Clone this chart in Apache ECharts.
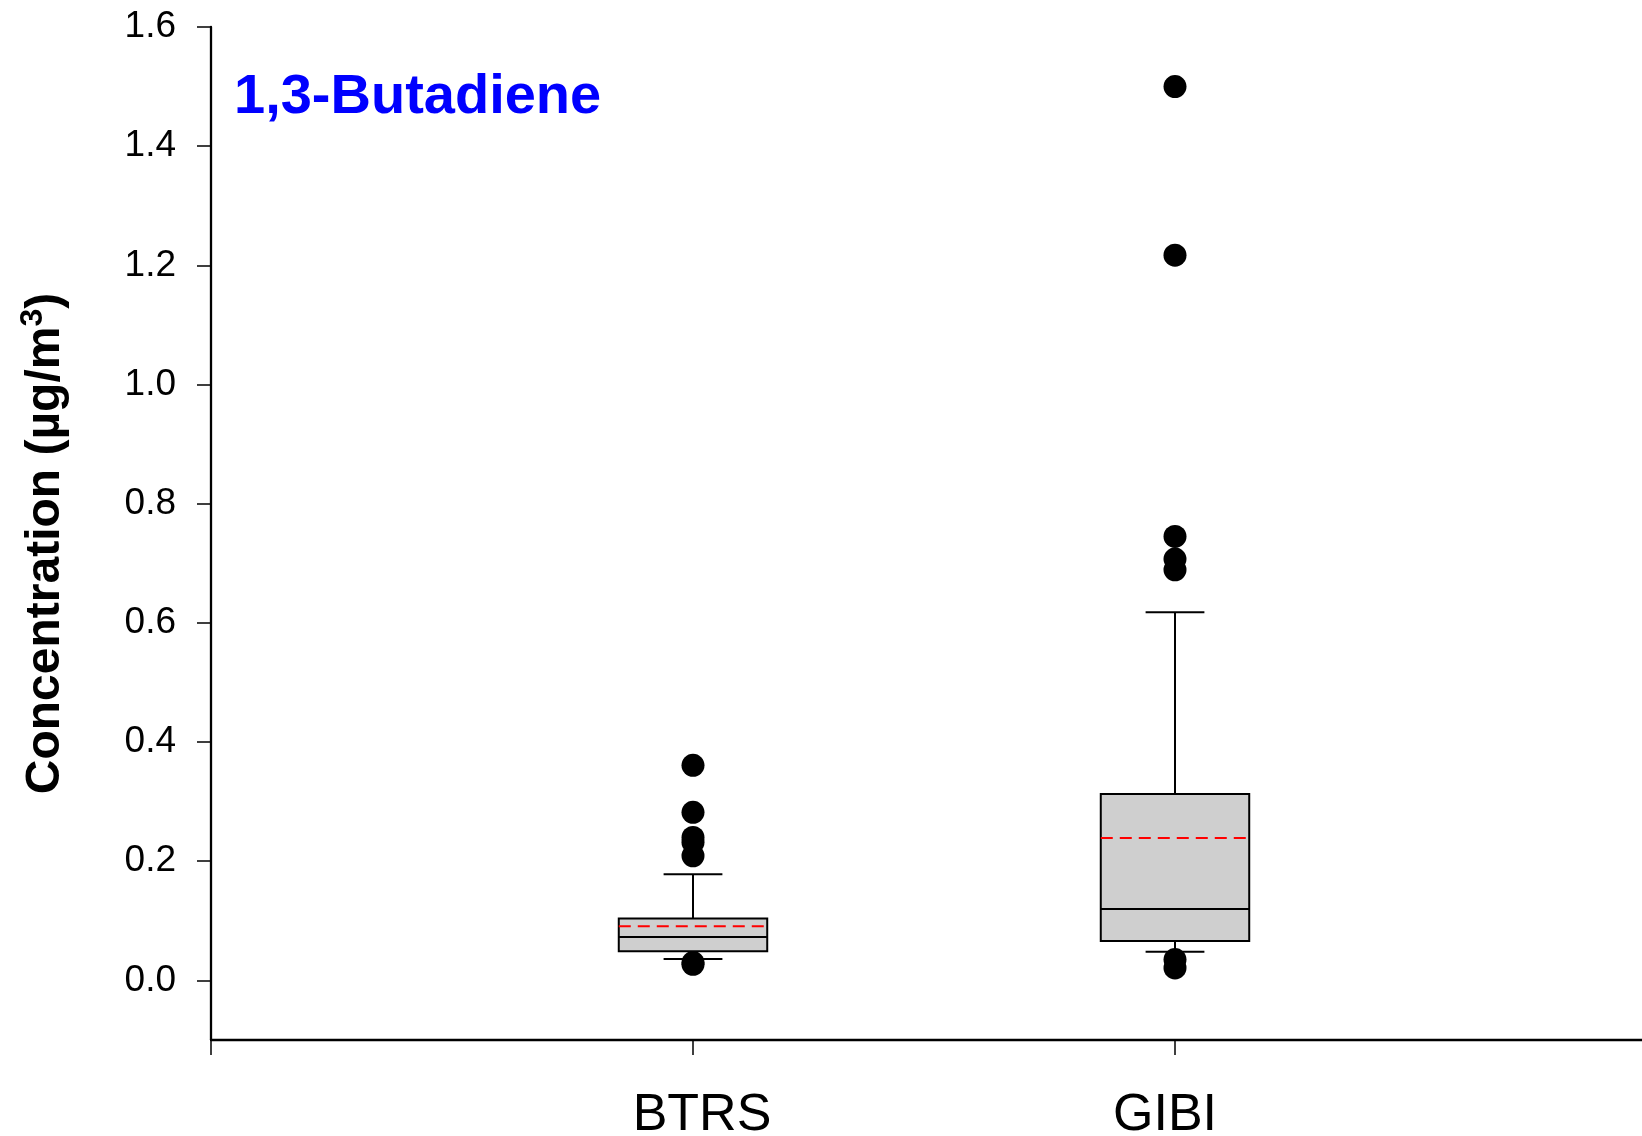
<!DOCTYPE html>
<html>
<head>
<meta charset="utf-8">
<title>1,3-Butadiene</title>
<script src="https://cdn.jsdelivr.net/npm/echarts@6/dist/echarts.min.js"></script>
<style>
  html, body { margin: 0; padding: 0; background: #fff; }
  #chart { width: 1642px; height: 1136px; }
</style>
</head>
<body>
<div id="chart"></div>
<script>
// sites along the x axis (positions 1, 2)
var sites = ['BTRS', 'GIBI']
var sitePos = [1, 2]

// box statistics per site
var lowerWhisker = [0.036, 0.048]
var q1 = [0.049, 0.066]
var median = [0.073, 0.120]
var q3 = [0.104, 0.313]
var upperWhisker = [0.178, 0.618]
var mean = [0.091, 0.239]

// points outside the whiskers
var btrsOutliers = [0.361, 0.282, 0.240, 0.232, 0.209, 0.030, 0.027]
var gibiOutliers = [1.500, 1.217, 0.745, 0.707, 0.689, 0.035, 0.021]

var yTicks = [0, 0.2, 0.4, 0.6, 0.8, 1.0, 1.2, 1.4, 1.6]

var boxData = sitePos.map(function (x, i) {
  return [x, lowerWhisker[i], q1[i], median[i], q3[i], upperWhisker[i], mean[i]]
})
var outlierData = []
btrsOutliers.forEach(function (v) { outlierData.push([sitePos[0], v]) })
gibiOutliers.forEach(function (v) { outlierData.push([sitePos[1], v]) })

var FONT = 'Liberation Sans, Arial, sans-serif'
var BOX_HALF = 0.154
var CAP_HALF = 0.061

function renderBox(params, api) {
  var x = api.value(0)
  var p = function (dx, v) { return api.coord([x + dx, v]) }
  var line = { stroke: '#000', lineWidth: 2 }
  var lw = api.value(1), lo = api.value(2), med = api.value(3)
  var hi = api.value(4), uw = api.value(5), mn = api.value(6)
  var tl = p(-BOX_HALF, hi)
  var br = p(BOX_HALF, lo)
  var seg = function (a, b, style) {
    return { type: 'line', shape: { x1: a[0], y1: a[1], x2: b[0], y2: b[1] }, style: style || line }
  }
  return {
    type: 'group',
    children: [
      seg(p(0, hi), p(0, uw)),
      seg(p(-CAP_HALF, uw), p(CAP_HALF, uw)),
      seg(p(0, lo), p(0, lw)),
      seg(p(-CAP_HALF, lw), p(CAP_HALF, lw)),
      {
        type: 'rect',
        shape: { x: tl[0], y: tl[1], width: br[0] - tl[0], height: br[1] - tl[1] },
        style: { fill: '#cfcfcf', stroke: '#000', lineWidth: 2 }
      },
      seg(p(-BOX_HALF, med), p(BOX_HALF, med)),
      seg(p(-BOX_HALF, mn), p(BOX_HALF, mn), { stroke: '#ff0000', lineWidth: 2, lineDash: [12, 7] })
    ]
  }
}

var chart = echarts.init(document.getElementById('chart'))
chart.setOption({
  animation: false,
  backgroundColor: '#fff',
  title: {
    text: '1,3-Butadiene',
    left: 234,
    top: 70,
    padding: 0,
    textStyle: { color: '#0000ff', fontSize: 56, fontWeight: 'bold', fontFamily: FONT }
  },
  grid: {
    left: 211,
    right: -15,
    top: 27,
    bottom: 96,
    outerBoundsMode: 'none'
  },
  xAxis: {
    type: 'value',
    min: 0,
    max: 3,
    interval: 1,
    splitLine: { show: false },
    axisLine: { show: true, onZero: false, lineStyle: { color: '#000', width: 2.3 } },
    axisTick: { show: true, length: 15, lineStyle: { color: '#000', width: 1.5 } },
    axisLabel: {
      margin: 50,
      color: '#000',
      fontSize: 52,
      fontFamily: FONT,
      formatter: function (v) {
        var i = sitePos.indexOf(v)
        return i >= 0 ? '{s' + i + '|' + sites[i] + '}' : ''
      },
      rich: {
        s0: { fontSize: 52, fontFamily: FONT, color: '#000', padding: [0, 0, 0, 18] },
        s1: { fontSize: 52, fontFamily: FONT, color: '#000', padding: [0, 20, 0, 0] }
      }
    }
  },
  yAxis: {
    type: 'value',
    min: -0.1,
    max: 1.6,
    name: '{t|Concentration (µg/m}{sup|3}{t|)}',
    nameLocation: 'middle',
    nameRotate: 90,
    nameGap: 136,
    nameTextStyle: {
      color: '#000',
      fontSize: 48,
      fontWeight: 'bold',
      fontFamily: FONT,
      padding: [0, 20, 0, 0],
      rich: {
        t: { fontSize: 48, fontWeight: 'bold', fontFamily: FONT, color: '#000' },
        sup: { fontSize: 32, fontWeight: 'bold', fontFamily: FONT, color: '#000', padding: [0, 0, 26, 0] }
      }
    },
    splitLine: { show: false },
    axisLine: { show: true, lineStyle: { color: '#000', width: 2.3 } },
    axisTick: {
      show: true,
      length: 14,
      customValues: yTicks,
      lineStyle: { color: '#000', width: 1.5 }
    },
    axisLabel: {
      margin: 35,
      color: '#000',
      fontSize: 37,
      fontFamily: FONT,
      customValues: yTicks,
      formatter: function (v) { return v.toFixed(1) }
    }
  },
  series: [
    {
      type: 'custom',
      renderItem: renderBox,
      data: boxData,
      encode: { x: 0, y: [1, 2, 3, 4, 5, 6] },
      z: 2
    },
    {
      type: 'scatter',
      data: outlierData,
      symbol: 'circle',
      symbolSize: 23,
      itemStyle: { color: '#000', opacity: 1 },
      z: 3
    }
  ]
})
</script>
</body>
</html>
